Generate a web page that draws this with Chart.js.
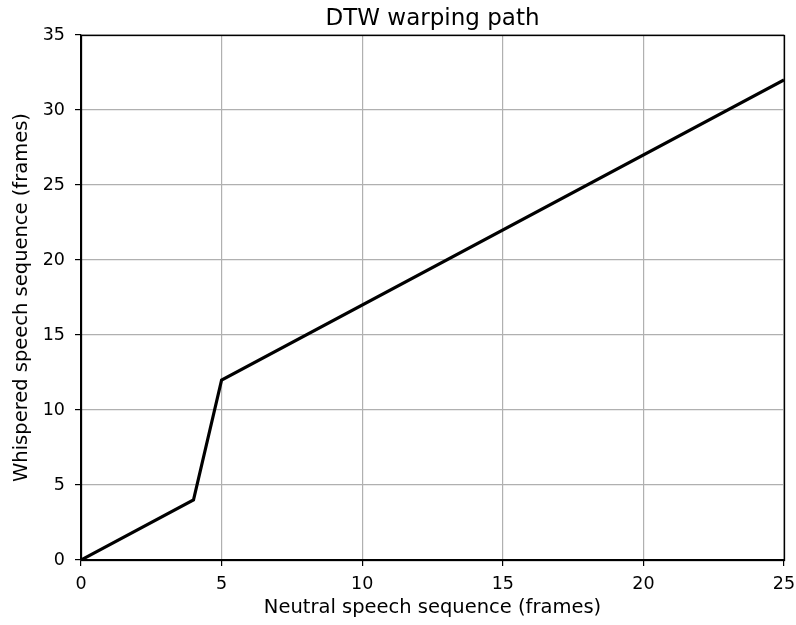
<!DOCTYPE html>
<html>
<head>
<meta charset="utf-8">
<script src="https://cdn.jsdelivr.net/npm/chart.js@4/dist/chart.umd.min.js"></script>
<style>
  html, body { margin: 0; padding: 0; background: #fff; }
  #wrap { width: 796px; height: 625px; }
</style>
</head>
<body>
<div id="wrap"><canvas id="dtw"></canvas></div>
<script>
// warping path vertices
const neutralFrames = [0, 4, 5, 25];
const whisperFrames = [0, 4, 12, 32];
const xTicks = [0, 5, 10, 15, 20, 25];
const yTicks = [0, 5, 10, 15, 20, 25, 30, 35];
const chartTitle = "DTW warping path";

const FONT = "'DejaVu Sans', sans-serif";

// box round the plot area (top and right spines) + title centred on plot area
const frameBox = {
  id: "frameBox",
  afterDraw(chart) {
    const a = chart.chartArea;
    const ctx = chart.ctx;
    ctx.save();
    ctx.strokeStyle = "#000";
    ctx.lineWidth = 1.3;
    ctx.strokeRect(Math.round(a.left) + 0.5, Math.round(a.top) + 0.5,
      Math.round(a.right - a.left), Math.round(a.bottom - a.top));
    ctx.fillStyle = "#000";
    ctx.font = "23px " + FONT;
    ctx.textAlign = "center";
    ctx.textBaseline = "alphabetic";
    ctx.fillText(chartTitle, (a.left + a.right) / 2, 25);
    ctx.restore();
  },
};

const points = neutralFrames.map((x, i) => ({ x, y: whisperFrames[i] }));

new Chart(document.getElementById("dtw"), {
  type: "scatter",
  data: {
    datasets: [
      {
        data: points,
        showLine: true,
        borderColor: "#000",
        borderWidth: 3.2,
        pointRadius: 0,
        fill: false,
        tension: 0,
      },
    ],
  },
  options: {
    responsive: true,
    maintainAspectRatio: false,
    animation: false,
    layout: { padding: { left: 0, right: 12, top: 35, bottom: 0 } },
    plugins: {
      legend: { display: false },
      tooltip: { enabled: false },
      title: { display: false },
    },
    scales: {
      x: {
        type: "linear",
        min: 0,
        max: 25,
        afterBuildTicks: (s) => { s.ticks = xTicks.map((v) => ({ value: v })); },
        afterFit: (s) => { s.height = 65; s.paddingLeft = 0; s.paddingRight = 0; },
        grid: { color: "#b0b0b0", lineWidth: 1.2, tickColor: "#000", tickLength: 6 },
        border: { color: "#000", width: 1.3 },
        ticks: { color: "#000", font: { family: FONT, size: 17.5 }, padding: 8, maxRotation: 0 },
        title: {
          display: true,
          text: "Neutral speech sequence (frames)",
          color: "#000",
          font: { family: FONT, size: 19.5 },
          padding: { top: 2, bottom: 5 },
        },
      },
      y: {
        type: "linear",
        min: 0,
        max: 35,
        afterBuildTicks: (s) => { s.ticks = yTicks.map((v) => ({ value: v })); },
        afterFit: (s) => { s.width = 81; s.paddingTop = 0; s.paddingBottom = 0; },
        grid: { color: "#b0b0b0", lineWidth: 1.2, tickColor: "#000", tickLength: 6 },
        border: { color: "#000", width: 1.3 },
        ticks: { color: "#000", font: { family: FONT, size: 17.5 }, padding: 10 },
        title: {
          display: true,
          text: "Whispered speech sequence (frames)",
          color: "#000",
          font: { family: FONT, size: 19.5 },
          padding: { top: 10, bottom: 2 },
        },
      },
    },
  },
  plugins: [frameBox],
});
</script>
</body>
</html>
